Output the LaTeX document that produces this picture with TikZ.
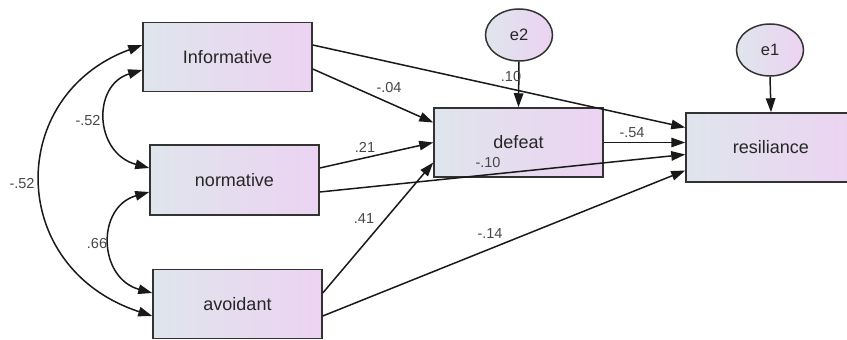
\documentclass[tikz,border=0pt]{standalone}
\usepackage{fontspec}
\setmainfont{Liberation Sans}
\usetikzlibrary{arrows.meta,shapes.geometric}
\definecolor{boxleft}{HTML}{DFE5EC}
\definecolor{boxright}{HTML}{ECD3F2}
\definecolor{edge}{HTML}{333333}
\tikzset{
  var/.style={rectangle, draw=edge, line width=1.5pt, inner sep=0pt,
    shading angle=60, left color=boxleft, right color=boxright,
    minimum width=169pt, minimum height=69pt,
    font=\fontsize{18}{20}\selectfont, text=black!85},
  err/.style={ellipse, draw=edge, line width=1.5pt, inner sep=0pt,
    left color=boxleft, right color=boxright,
    minimum width=67pt, minimum height=52pt,
    font=\fontsize{16.5}{18}\selectfont, text=black!85},
  pth/.style={line width=1.5pt, draw=black!90, -{Triangle[length=14pt,width=9.5pt]}},
  cov/.style={line width=1.5pt, draw=black!90, {Triangle[length=14pt,width=9.5pt]}-{Triangle[length=14pt,width=9.5pt]}},
  lab/.style={font=\fontsize{14.5}{16}\selectfont, text=black!72, inner sep=0pt}
}
\begin{document}
\begin{tikzpicture}[x=1pt,y=-1pt]
\clip (0,0) rectangle (847,340);
\node[var] (inf) at (227.5,57) {Informative};
\node[var, minimum height=70pt] (nor) at (234.5,180) {normative};
\node[var] (avo) at (237.5,304) {avoidant};
\node[var] (def) at (518.5,142.5) {defeat};
\node[var, minimum width=170pt] (res) at (771,147.5) {resiliance};
\node[err] (e2) at (519,35) {e2};
\node[err] (e1) at (770,50) {e1};
% paths
\draw[pth] ([yshift=12pt]inf.east) -- ([yshift=20pt]res.west);
\draw[pth] ([yshift=-12pt]inf.east) -- ([yshift=20pt]def.west);
\draw[pth] ([yshift=12pt]nor.east) -- ([yshift=0pt]def.west);
\draw[pth] ([yshift=-12pt]nor.east) -- ([yshift=-7pt]res.west);
\draw[pth] ([yshift=11pt]avo.east) -- ([yshift=-20pt]def.west);
\draw[pth] ([yshift=-12pt]avo.east) -- ([yshift=-23pt]res.west);
\draw[pth] (def.east) -- (res.west |- def.east);
\draw[pth] (e2.south) -- (def.north);
\draw[pth] (e1.south) -- (res.north);
% covariances
\draw[cov] ([yshift=-13pt]inf.west) .. controls (92,85) and (94,153) .. ([yshift=12pt]nor.west);
\draw[cov] ([yshift=-12pt]nor.west) .. controls (96,207) and (98,278) .. ([yshift=11pt]avo.west);
\draw[cov] ([yshift=12pt]inf.west) .. controls (6,95) and (6,268) .. ([yshift=-12pt]avo.west);
% labels
\node[lab] (l1) at (389,88) {-.04};
\node[lab] (l2) at (365,147) {.21};
\node[lab] (l3) at (364,219) {.41};
\node[lab] (l4) at (490,234) {-.14};
\node[lab] (l5) at (511,77) {.10};
\node[lab] (l6) at (632,133) {-.54};
\node[lab] (l7) at (488,163) {-.10};
\node[lab] (l8) at (88,121) {-.52};
\node[lab] (l9) at (22,184) {-.52};
\node[lab] (l10) at (97,244) {.66};
\end{tikzpicture}
\end{document}
